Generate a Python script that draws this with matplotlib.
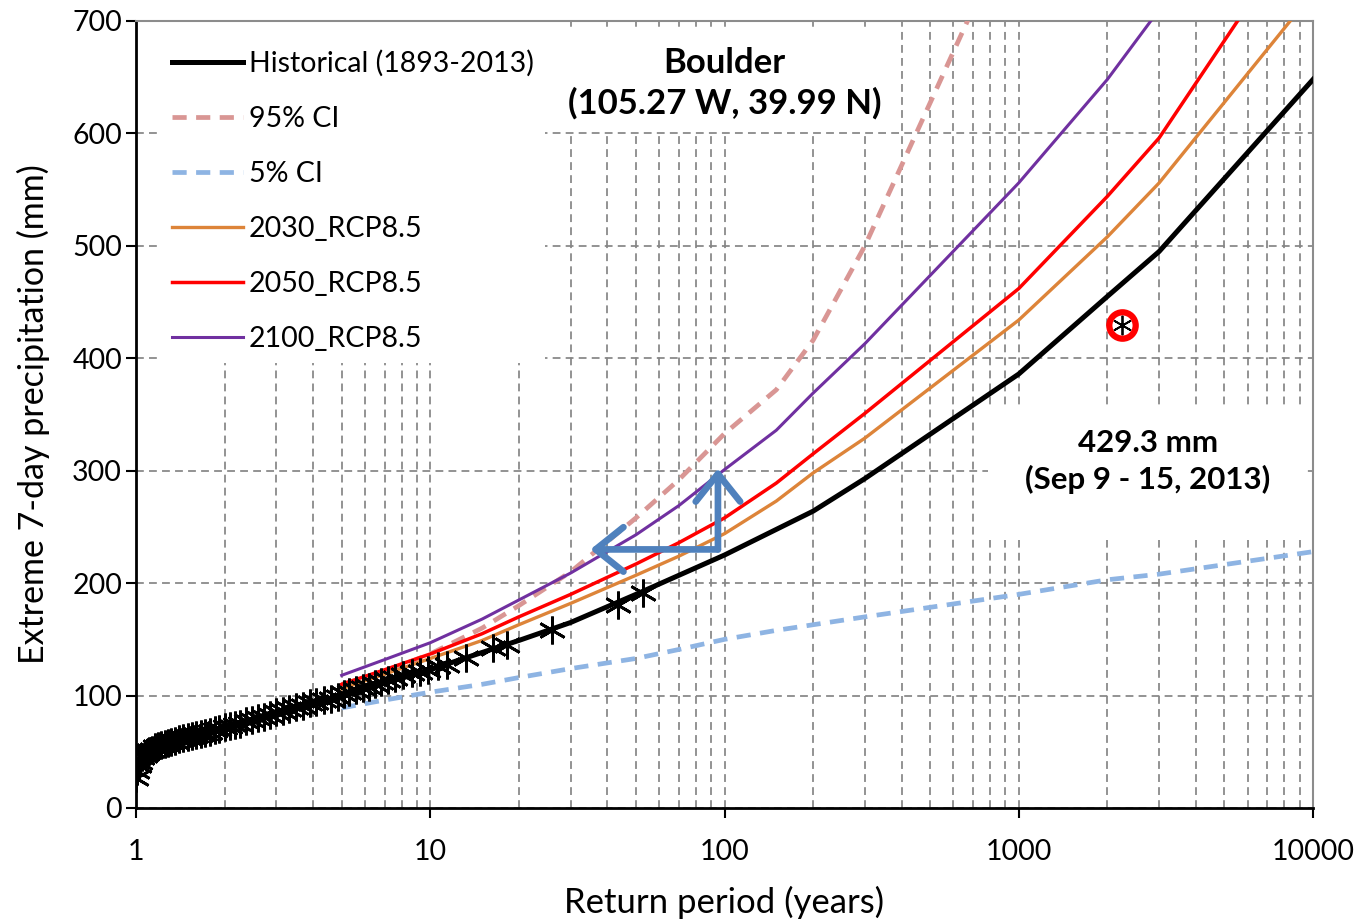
import numpy as np
import matplotlib
matplotlib.use('Agg')
import matplotlib.pyplot as plt
from matplotlib.patches import Rectangle
from matplotlib.ticker import FixedLocator, NullFormatter

plt.rcParams['font.family'] = ['Lato', 'DejaVu Sans']

# observed annual maxima (return period, mm)
hist_T = [1.0, 1.01, 1.02, 1.03, 1.05, 1.07, 1.09, 1.11, 1.13, 1.16, 1.19, 1.22, 1.25,
          1.28, 1.32, 1.36, 1.40, 1.45, 1.50, 1.55, 1.60, 1.66, 1.72, 1.78, 1.85, 1.92,
          2.0, 2.08, 2.17, 2.26, 2.36, 2.47, 2.6, 2.72, 2.85, 3.0, 3.15, 3.3, 3.5, 3.7,
          3.9, 4.1, 4.35, 4.6, 4.85, 5.1, 5.3, 5.6, 5.9, 6.2, 6.5, 6.8, 7.2, 7.6, 8.1,
          8.7, 9.2, 9.8, 10.6, 11.4, 13.2, 16.4, 18.2, 25.9, 43.6, 53.0]
hist_mm = [27, 33, 38, 41, 45, 47, 49, 51, 52, 54, 55, 56, 57,
           58, 59, 60, 61, 62, 63, 64, 65, 66, 67, 68, 69, 70,
           72, 73, 74, 75, 77, 78, 80, 81, 83, 85, 86, 88, 90, 91,
           93, 94, 96, 97, 99, 101, 103, 105, 107, 108, 110, 112, 114, 116, 118,
           120, 121, 123, 126, 127, 133, 142, 145, 158, 181, 191]

# fitted curves
fit_T = [1, 1.03, 1.1, 1.2, 1.35, 1.6, 2, 2.4, 3, 3.5, 4, 5, 7, 10, 13, 20, 30, 50,
         100, 200, 300, 1000, 2000, 3000, 10000]
hist_fit = [25, 40, 49, 54, 59, 65, 72, 78, 85, 90, 94, 100, 111, 123, 133, 149, 165,
            190, 225, 264, 293, 386, 455, 495, 648]

proj_T = [5, 7, 10, 15, 20, 30, 50, 70, 100, 150, 200, 300, 1000, 2000, 3000, 10000]
ci95 = [110, 121, 137, 160, 180, 210, 258, 292, 333, 372, 416, 500, 800, 1000, 1150, 1800]
ci5 = [89, 96, 103, 110, 116, 124, 133, 141, 150, 158, 163, 170, 190, 203, 208, 228]
rcp2030 = [106, 119, 133, 149, 163, 182, 207, 224, 244, 273, 298, 329, 434, 508, 556, 725]
rcp2050 = [110, 123, 137, 155, 170, 190, 217, 236, 258, 289, 315, 351, 462, 544, 596, 800]
rcp2100 = [118, 132, 147, 168, 185, 209, 243, 269, 301, 336, 369, 413, 556, 648, 710, 950]

event_T = 2240
event_mm = 429.3
arrow_T = [35, 95]
arrow_mm = [230, 302]

fig = plt.figure(figsize=(13.55, 9.23), dpi=100)
ax = fig.add_axes([136/1355, 1-808/923, 1177/1355, 787/923])

ax.set_xscale('log')
ax.set_xlim(1, 10000)
ax.set_ylim(0, 700)

grid_kw = dict(color='#858585', linestyle=(0, (4.5, 3)), linewidth=1.25)
ax.grid(True, which='major', axis='both', **grid_kw)
ax.grid(True, which='minor', axis='x', **grid_kw)
ax.set_axisbelow(True)

# white boxes behind legend and text (hide grid)
W, H = 1177, 787
def pbox(x0, y0, x1, y1):
    ax.add_patch(Rectangle(((x0-136)/W, (808-y1)/H), (x1-x0)/W, (y1-y0)/H,
                           transform=ax.transAxes, facecolor='white',
                           edgecolor='none', zorder=1))
pbox(158, 22, 545, 363)
pbox(545, 31, 885, 132)
pbox(988, 405, 1305, 540)

l_hist, = ax.plot(fit_T, hist_fit, color='black', lw=3.6, zorder=5,
                  label='Historical (1893-2013)')
ax.plot(hist_T, hist_mm, linestyle='none', marker=(6, 2, 0), ms=20, mew=2.0,
        color='black', zorder=6)
l95, = ax.plot(proj_T, ci95, color='#d99694', lw=3.4, linestyle=(0, (3, 2)),
               zorder=3, label='95% CI')
l5, = ax.plot(proj_T, ci5, color='#8eb4e3', lw=3.4, linestyle=(0, (3, 2)),
              zorder=3, label='5% CI')
l30, = ax.plot(proj_T, rcp2030, color='#dd8439', lw=2.4, zorder=4, label='2030_RCP8.5')
l50, = ax.plot(proj_T, rcp2050, color='#ff0000', lw=2.5, zorder=4, label='2050_RCP8.5')
l00, = ax.plot(proj_T, rcp2100, color='#7030a0', lw=2.2, zorder=4, label='2100_RCP8.5')

# 2013 event
ax.plot([event_T], [event_mm], marker='o', ms=19, mfc='none', mec='#ff0000',
        mew=4.5, zorder=7, linestyle='none')
ax.plot([event_T], [event_mm], marker=(6, 2, 0), ms=14, mew=1.3, color='black',
        zorder=8, linestyle='none')

# arrows
astyle = dict(arrowstyle='->,head_length=1.0,head_width=0.8', color='#4f81bd',
              lw=4.8, mutation_scale=20, shrinkA=0, shrinkB=0,
              capstyle='round', joinstyle='round')
ax.annotate('', xy=(arrow_T[0], arrow_mm[0]), xytext=(arrow_T[1], arrow_mm[0]),
            arrowprops=astyle, zorder=9)
ax.annotate('', xy=(arrow_T[1], arrow_mm[1]), xytext=(arrow_T[1], arrow_mm[0]),
            arrowprops=astyle, zorder=9)

ax.text(100, 645, 'Boulder\n(105.27 W, 39.99 N)', ha='center', va='center',
        fontsize=25, fontweight='bold', linespacing=1.3, zorder=10)
ax.text(2750, 308, '429.3 mm\n(Sep 9 - 15, 2013)', ha='center', va='center',
        fontsize=22.5, fontweight='bold', linespacing=1.32, zorder=10)

leg = ax.legend(handles=[l_hist, l95, l5, l30, l50, l00], loc='upper left',
                bbox_to_anchor=(0.021, 0.978), frameon=False, fontsize=20.5,
                handlelength=2.5, handletextpad=0.2, labelspacing=1.02,
                borderaxespad=0)
leg.set_zorder(10)

ax.xaxis.set_major_locator(FixedLocator([1, 10, 100, 1000, 10000]))
ax.set_xticklabels(['1', '10', '100', '1000', '10000'])
ax.xaxis.set_minor_formatter(NullFormatter())
ax.set_yticks(np.arange(0, 701, 100))
ax.tick_params(axis='both', which='major', labelsize=20.5, length=7, width=1.5,
               direction='out')
ax.tick_params(axis='x', which='major', pad=15)
ax.tick_params(axis='y', which='major', pad=3)
ax.tick_params(axis='x', which='minor', length=0)

for s in ['left', 'bottom']:
    ax.spines[s].set_linewidth(2)
    ax.spines[s].set_color('black')
for s in ['top', 'right']:
    ax.spines[s].set_linewidth(1.5)
    ax.spines[s].set_color('#8c8c8c')

ax.set_xlabel('Return period (years)', fontsize=25, labelpad=15)
ax.set_ylabel('Extreme 7-day precipitation (mm)', fontsize=24.5, labelpad=16)

fig.savefig('out.png', dpi=100)
